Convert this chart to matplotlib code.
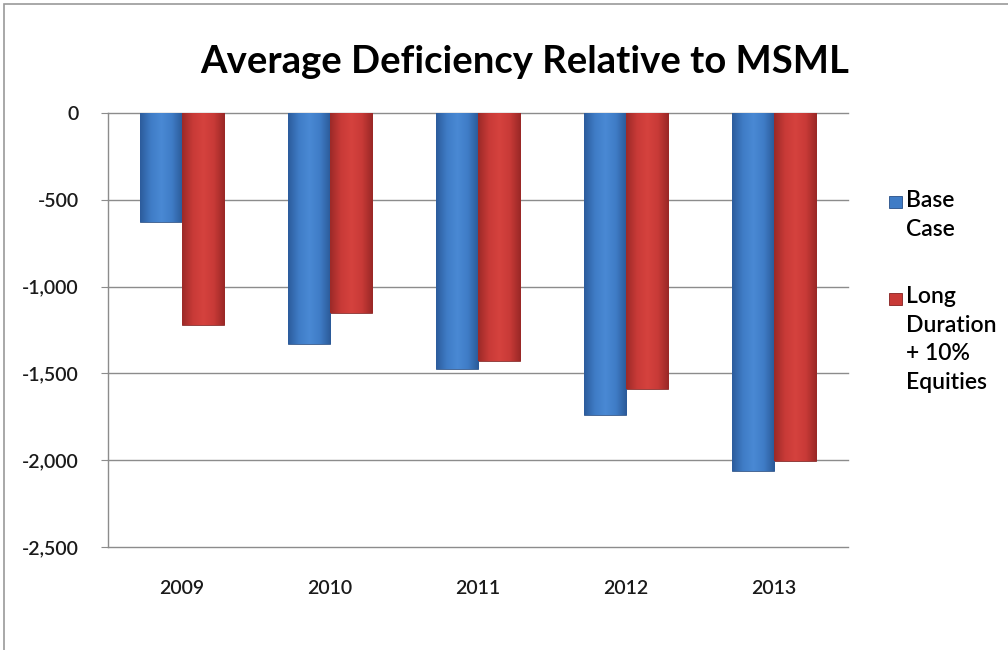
import numpy as np
import matplotlib
matplotlib.use("Agg")
import matplotlib.pyplot as plt
from matplotlib.colors import LinearSegmentedColormap
from matplotlib.patches import Rectangle
from matplotlib.ticker import FuncFormatter

years = ["2009", "2010", "2011", "2012", "2013"]
base_case = [-630, -1330, -1475, -1740, -2060]
long_duration = [-1220, -1150, -1430, -1590, -2005]
series_names = ["Base\nCase", "Long\nDuration\n+ 10%\nEquities"]

plt.rcParams["font.family"] = ["Lato", "DejaVu Sans"]
plt.rcParams["font.weight"] = "semibold"

BLUE = ["#2c5c9c", "#3f7cc6", "#4a89d4", "#3f7cc6", "#2b5a98"]
RED = ["#9c2a28", "#c83a37", "#d5423e", "#c83a37", "#992826"]


def shade_bars(ax, bars, colors):
    cmap = LinearSegmentedColormap.from_list("shade", colors)
    grad = np.linspace(0, 1, 64).reshape(1, -1)
    for b in bars:
        x0, y0 = b.get_x(), b.get_y()
        w, h = b.get_width(), b.get_height()
        im = ax.imshow(grad, cmap=cmap, aspect="auto", zorder=3,
                       extent=[x0, x0 + w, y0 + h, y0], interpolation="bicubic")
        im.set_clip_path(b)
        b.set_facecolor("none")


fig = plt.figure(figsize=(10.08, 6.5), dpi=100)
fig.patches.append(Rectangle((4 / 1008, -0.1), 1.2, 1 - 4 / 650 + 0.1,
                             transform=fig.transFigure, fill=False,
                             edgecolor="#9a9a9a", linewidth=1.2))
ax = fig.add_axes([108 / 1008, 1 - 547 / 650, 740 / 1008, 434 / 650])

x = np.arange(len(years))
w = 0.285
b1 = ax.bar(x - w / 2, base_case, w, color="#3f7cc6", edgecolor="#274f86",
            linewidth=0.6, zorder=3)
b2 = ax.bar(x + w / 2, long_duration, w, color="#c83a37", edgecolor="#85201f",
            linewidth=0.6, zorder=3)
shade_bars(ax, b1, BLUE)
shade_bars(ax, b2, RED)

ax.set_xlim(-0.5, len(years) - 0.5)
ax.set_ylim(-2500, 0)
ax.set_yticks(np.arange(-2500, 1, 500))
ax.yaxis.set_major_formatter(FuncFormatter(lambda v, p: f"{int(v):,}"))
ax.grid(axis="y", color="#8c8c8c", linewidth=1.0, zorder=0)
for gl in ax.get_ygridlines():
    gl.set_clip_on(False)
ax.set_axisbelow(True)
for s in ["top", "right", "bottom"]:
    ax.spines[s].set_visible(False)
ax.spines["left"].set_color("#8c8c8c")
ax.spines["left"].set_linewidth(1.0)
ax.tick_params(axis="y", length=5, color="#8c8c8c", labelsize=14, pad=16,
               labelcolor="#1a1a1a")
ax.set_xticks(x)
ax.set_xticklabels(years)
ax.tick_params(axis="x", length=0, labelsize=14, pad=24, labelcolor="#1a1a1a")

fig.text(0.5208, 1 - 62 / 650, "Average Deficiency Relative to MSML",
         ha="center", va="center", fontsize=27.5, fontweight="bold")

# legend
fig.patches.append(Rectangle((889 / 1008, 1 - 208 / 650), 13 / 1008, 12 / 650,
                             transform=fig.transFigure, facecolor="#3f7cc6",
                             edgecolor="#274f86", linewidth=0.6))
fig.patches.append(Rectangle((889 / 1008, 1 - 305 / 650), 13 / 1008, 12 / 650,
                             transform=fig.transFigure, facecolor="#c83a37",
                             edgecolor="#85201f", linewidth=0.6))
fig.text(906 / 1008, 1 - 190 / 650, series_names[0], ha="left", va="top",
         fontsize=16.5, linespacing=1.45)
fig.text(906 / 1008, 1 - 286 / 650, series_names[1], ha="left", va="top",
         fontsize=16.5, linespacing=1.45)

fig.savefig("out.png", dpi=100)
